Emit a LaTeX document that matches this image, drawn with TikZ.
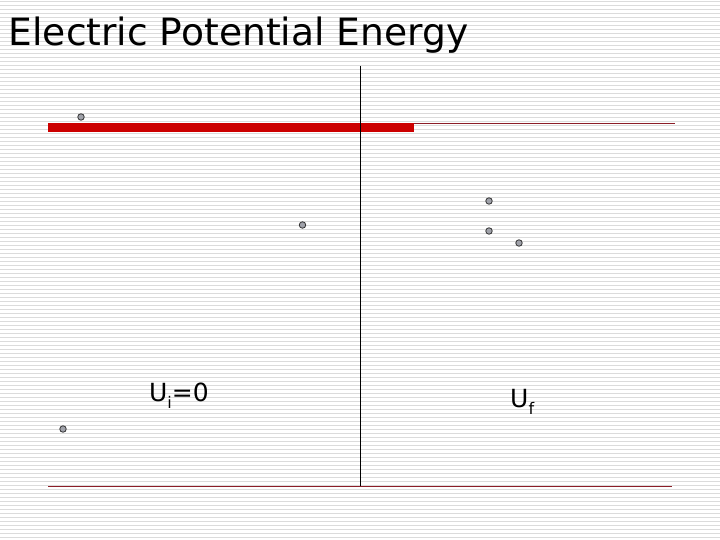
\documentclass[tikz,border=0pt]{standalone}
\usepackage{fontspec}
\setmainfont{DejaVu Sans}
\definecolor{stripe}{gray}{0.86}
\definecolor{barred}{RGB}{204,0,0}
\definecolor{thinred}{RGB}{140,30,40}
\definecolor{dotgray}{RGB}{160,162,170}
\tikzset{
  stripeline/.style={draw=stripe, line width=1.2pt},
  charge/.style={circle, fill=dotgray, draw=black!80, line width=0.8pt, minimum size=6.5pt, inner sep=0pt},
  lbl/.style={anchor=base west, inner sep=0pt, font=\fontsize{25}{27}\selectfont},
}
\newcommand{\lowsub}[1]{\raisebox{-7.5pt}{\fontsize{16}{17}\selectfont #1}}
\begin{document}
\begin{tikzpicture}[x=1pt, y=-1pt]
\useasboundingbox (0,0) rectangle (720,540);
\fill[white] (0,0) rectangle (720,540);
\foreach \i in {0,...,134} \draw[stripeline] (0,4*\i+1.2) -- (720,4*\i+1.2);
% title
\node[anchor=base west, inner sep=0pt, font=\fontsize{37.6}{40}\selectfont] (title) at (8.5,46) {Electric Potential Energy};
% axes
\coordinate (vtop) at (360,66);
\coordinate (vbot) at (360,486);
\coordinate (bl) at (48,486);
\coordinate (br) at (672,486);
\coordinate (tl) at (414,123.5);
\coordinate (tr) at (675,123.5);
\draw[thinred, line width=1pt] (bl) -- (br);
\draw[thinred, line width=1pt] (tl) -- (tr);
\fill[barred] (48,123) rectangle (414,132);
\draw[black, line width=1pt] (vtop) -- (vbot);
% charges
\node[charge] (q1) at (81,117) {};
\node[charge] (q2) at (302.5,225) {};
\node[charge] (q3) at (489,201) {};
\node[charge] (q4) at (489,231) {};
\node[charge] (q5) at (519,243) {};
\node[charge] (q6) at (63,429) {};
% labels
\node[lbl] (ui) at (149,401) {U\lowsub{i}=0};
\node[lbl] (uf) at (510,407) {U\lowsub{f}};
\end{tikzpicture}
\end{document}
